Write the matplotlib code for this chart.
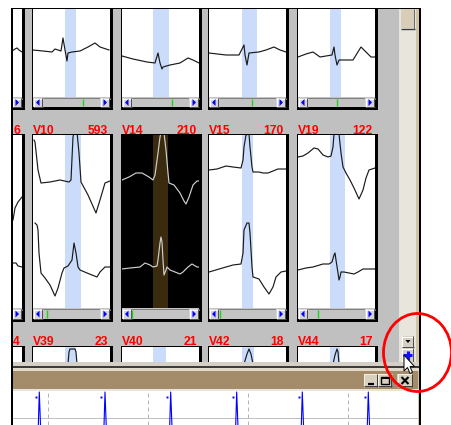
import matplotlib
matplotlib.use("Agg")
import matplotlib.pyplot as plt
from matplotlib.patches import Rectangle, Polygon, Ellipse

W, H, DPI = 452, 425, 100

# ---------------- data ----------------
row2_leads = ["", "V10", "V14", "V15", "V19"]
row2_counts = ["6", "593", "210", "170", "122"]
row3_leads = ["", "V39", "V40", "V42", "V44"]
row3_counts = ["4", "23", "21", "18", "17"]

# row 1 traces: (time, depth below panel top)
r1_c0 = [(67, 42), (70, 40), (72, 39), (74, 41), (77, 43)]
r1_v10 = [(0, 41), (10, 42), (19, 43), (22, 40), (28, 42), (30, 29), (32, 41), (34, 52), (35, 44),
          (39, 43), (47, 42), (55, 38), (62, 34), (67, 38), (76, 41)]
r1_v14 = [(0, 47), (11, 50), (25, 53), (33, 54), (36, 44), (38, 54), (40, 60), (41, 58), (48, 56),
          (58, 54), (66, 49), (71, 51), (77, 54)]
r1_v15 = [(0, 44), (17, 46), (30, 46), (35, 36), (36, 46), (38, 56), (40, 44), (50, 43), (57, 41),
          (65, 38), (71, 41), (77, 43)]
r1_v19 = [(0, 48), (8, 45), (15, 43), (22, 48), (34, 46), (36, 38), (37, 46), (39, 56), (41, 51),
          (47, 51), (55, 51), (63, 38), (68, 43), (73, 48), (77, 48)]
r1_bands = [(32, 43), (32, 43), (31, 47), (33, 48), (32, 43)]
r1_ticks = [None, 50, 50, 43, 39]

# row 2 traces: upper and lower beat templates
r2u_c0 = [(68, 85), (70, 73), (73, 67), (77, 62)]
r2l_c0 = [(68, 128), (71, 128), (73, 131), (77, 132)]
r2u_v10 = [(1, 5), (2, 7), (5, 35), (8, 48), (17, 47), (27, 45), (36, 47), (38, 45), (40, 2), (41, -3),
           (44, -3), (46, 18), (48, 47), (55, 60), (63, 78), (67, 65), (72, 48), (77, 46)]
r2l_v10 = [(2, 88), (4, 90), (5, 95), (6, 118), (8, 138), (12, 143), (17, 150), (22, 161), (25, 153),
           (29, 138), (31, 133), (35, 131), (39, 125), (41, 108), (43, 118), (45, 132), (47, 135),
           (54, 138), (64, 142), (67, 137), (72, 132), (77, 132)]
r2u_v14 = [(0, 45), (7, 42), (14, 38), (20, 38), (27, 42), (31, 45), (33, 40), (36, 18), (38, 2),
           (39, -2), (42, -2), (44, 15), (46, 38), (47, 48), (52, 50), (58, 58), (62, 66), (64, 69),
           (67, 62), (71, 50), (75, 46), (77, 46)]
r2l_v14 = [(0, 134), (8, 133), (18, 132), (23, 128), (28, 130), (31, 132), (35, 131), (36, 125),
           (38, 108), (39, 102), (40, 107), (41, 125), (42, 140), (44, 135), (45, 132), (48, 135),
           (53, 137), (58, 139), (61, 137), (66, 132), (70, 129), (75, 132), (77, 132)]
r2u_v15 = [(0, 35), (8, 34), (17, 31), (24, 32), (32, 33), (34, 25), (35, 12), (37, 0), (40, -1),
           (41, 12), (43, 32), (44, 37), (50, 37), (54, 38), (59, 38), (64, 36), (69, 34), (77, 34)]
r2l_v15 = [(0, 137), (17, 132), (24, 130), (32, 129), (34, 118), (35, 95), (38, 88), (40, 88),
           (41, 98), (43, 132), (44, 142), (50, 144), (55, 152), (60, 159), (64, 152), (67, 142),
           (72, 137), (77, 136)]
r2u_v19 = [(0, 22), (5, 21), (10, 18), (16, 13), (20, 14), (25, 20), (30, 22), (33, 21), (35, 12),
           (36, -1), (41, -1), (43, 18), (45, 32), (48, 38), (52, 45), (56, 53), (61, 64), (65, 55),
           (68, 43), (71, 35), (77, 33)]
r2l_v19 = [(0, 135), (8, 133), (15, 132), (25, 129), (31, 129), (34, 127), (36, 120), (37, 118),
           (38, 125), (40, 138), (41, 145), (42, 142), (43, 137), (46, 137), (51, 138), (56, 139),
           (60, 137), (65, 134), (77, 134)]
r2_bands = [(32, 48), (32, 48), (31, 46), (33, 44), (32, 47)]
r2_ticks = [None, 14, 10, 11, 20]

# row 3 (partially visible)
r3_v39 = [(35, 17), (36, 5), (37, 2), (42, 2), (43, 5), (44, 17)]
r3_v42 = [(35, 17), (38, 7), (40, 2), (42, 7), (44, 17)]
r3_v44 = [(35, 17), (37, 8), (39, 2), (40, 5), (41, 17)]
r3_bands = [(32, 43), (32, 43), (31, 44), (33, 45), (32, 42)]

# rhythm strip (lower window)
beat_times = [26.3, 92.0, 157.7, 223.7, 289.3, 355.3]
grid_times = [35, 135, 235, 335]

# ---------------- layout ----------------
COLS = [-55, 33, 122, 209, 298]
PW = 77
GRAY = "#c0c0c0"
BLUE_BAND = "#cadcfa"
px = 0.72  # one pixel in points

fig = plt.figure(figsize=(W / DPI, H / DPI), dpi=DPI)
fig.patch.set_facecolor("white")
main = fig.add_axes([0, 0, 1, 1])
main.set_xlim(0, W)
main.set_ylim(H, 0)
main.axis("off")


def rect(ax, x0, y0, x1, y1, color, z=1):
    ax.add_patch(Rectangle((x0, y0), x1 - x0, y1 - y0, facecolor=color,
                           edgecolor="none", lw=0, zorder=z))


def seg(ax, xs, ys, color, lw=px, z=3):
    ax.plot(xs, ys, color=color, lw=lw, zorder=z, solid_capstyle="butt")


def sub_axes(x0, y0, w, h, xlim, ylim, bg, z=2):
    a = fig.add_axes([x0 / W, 1 - (y0 + h) / H, w / W, h / H], zorder=z)
    a.set_xlim(*xlim)
    a.set_ylim(*ylim)
    a.set_facecolor(bg)
    a.set_xticks([])
    a.set_yticks([])
    for s in a.spines.values():
        s.set_visible(False)
    return a


# background gray workspace
rect(main, 13, 9, 399, 362, GRAY, z=0)


def scrollbar(x, y, w, hs, tick):
    rect(main, x, y, x + w, y + hs, "#c4c4c4", z=2)
    seg(main, [x, x + w], [y + 0.5, y + 0.5], "#808080", z=3)
    for bx, d in ((x, -1), (x + w - 10, 1)):
        rect(main, bx + 0.5, y + 1, bx + 10, y + hs, "#d4d4d4", z=3)
        seg(main, [bx + 1, bx + 1], [y + 1, y + hs], "white", z=4)
        seg(main, [bx + 1, bx + 10], [y + 1.5, y + 1.5], "white", z=4)
        seg(main, [bx + 9.5, bx + 9.5], [y + 1, y + hs], "#505050", z=4)
        seg(main, [bx + 1, bx + 10], [y + hs - 0.5, y + hs - 0.5], "#505050", z=4)
        cx, cy = bx + 5, y + hs / 2 + 0.5
        tri = [(cx + 2 * d, cy), (cx - 1.5 * d, cy - 3.5), (cx - 1.5 * d, cy + 3.5)]
        main.add_patch(Polygon(tri, closed=True, facecolor="#0000ff", edgecolor="none", zorder=5))
    if tick is not None:
        seg(main, [x + tick, x + tick], [y + 1.5, y + hs - 1], "#1ed21e", lw=1.0, z=4)


def draw_row(top, plot_h, sb_h, labels_y, leads, counts, bands, ticks, traces, dark_col=None,
             shadow_top=None):
    for i, x in enumerate(COLS):
        bottom = top + plot_h + sb_h
        st = top - 1 if shadow_top is None else shadow_top
        rect(main, x - 1, st, x + PW + 3, bottom + 3, "black", z=1)
        if sb_h:
            scrollbar(x, top + plot_h, PW, sb_h, ticks[i])
        dark = (i == dark_col)
        bg = "black" if dark else "white"
        if i == 0:
            a = sub_axes(13, top, 9, plot_h, (68, 77), (plot_h, 0), bg)
        else:
            a = sub_axes(x, top, PW, plot_h, (0, PW), (plot_h, 0), bg)
        a.axvspan(bands[i][0], bands[i][1], color="#3a2a0e" if dark else BLUE_BAND, lw=0)
        for tr in traces[i]:
            if tr is None:
                continue
            a.plot([p[0] for p in tr], [p[1] for p in tr],
                   color="#cfcfcf" if dark else "#1a1a1a", lw=0.85)
        # labels above
        if labels_y is not None:
            if leads[i]:
                main.text(x, labels_y, leads[i], color="#ff0000", fontsize=8.7,
                          fontweight="bold", family="Liberation Sans", ha="left", va="baseline",
                          zorder=6)
            main.text(x + PW - 2, labels_y, counts[i], color="#ff0000", fontsize=8.7,
                      fontweight="bold", family="Liberation Sans", ha="right", va="baseline",
                      zorder=6)


# row 1 (top cut by frame)
draw_row(9, 88, 10, None, None, None, r1_bands, r1_ticks,
         [[r1_c0], [r1_v10], [r1_v14], [r1_v15], [r1_v19]], shadow_top=8)
# labels for row 2
for i, x in enumerate(COLS):
    pass
draw_row(135, 173, 11, 133.5, row2_leads, row2_counts, r2_bands, r2_ticks,
         [[r2u_c0, r2l_c0], [r2u_v10, r2l_v10], [r2u_v14, r2l_v14],
          [r2u_v15, r2l_v15], [r2u_v19, r2l_v19]], dark_col=2)
draw_row(347, 15, 0, 345, row3_leads, row3_counts, r3_bands, [None] * 5,
         [[None], [r3_v39], [None], [r3_v42], [r3_v44]])

# right scrollbar column
rect(main, 399, 9, 416, 362, "#e8e6dc", z=1)
rect(main, 416, 9, 419.5, 425, "#d2c4a4", z=1)
rect(main, 401, 9, 415, 28, "#d8ceb8", z=2)
seg(main, [401, 415], [28.5, 28.5], "#3a3a3a", lw=1.0, z=3)
seg(main, [414.5, 414.5], [9, 29], "#6a6a6a", lw=px, z=3)
# down-arrow and plus buttons
for (y0, y1) in ((336, 347), (348, 362)):
    rect(main, 402, y0, 414, y1, "#d6d0c4", z=2)
    seg(main, [402.5, 402.5], [y0, y1], "white", z=3)
    seg(main, [402, 414], [y0 + 0.5, y0 + 0.5], "white", z=3)
    seg(main, [413.5, 413.5], [y0, y1], "#505050", z=3)
    seg(main, [402, 414], [y1 - 0.5, y1 - 0.5], "#505050", z=3)
main.add_patch(Polygon([(405.5, 340), (410.5, 340), (408, 343)], closed=True,
                       facecolor="black", edgecolor="none", zorder=4))
seg(main, [403.5, 412.5], [355, 355], "#1010ff", lw=2.2, z=4)
seg(main, [408, 408], [350.5, 360], "#1010ff", lw=2.2, z=4)

# lower window chrome
rect(main, 13, 362, 419.5, 366, "#d4d0c8", z=4)
rect(main, 13, 366, 419.5, 368, "#3c3c3c", z=4)
rect(main, 13, 368, 419.5, 371, "#e2dac8", z=4)
rect(main, 13, 371, 418, 389, "#a48c6a", z=4)
rect(main, 13, 389, 419.5, 391, "#e8e4dc", z=4)
for (x0, x1) in ((364, 378), (378, 392), (397.5, 412.5)):
    rect(main, x0, 373.5, x1, 386.5, "#d8d0be", z=5)
    seg(main, [x0 + 0.5, x0 + 0.5], [373.5, 386.5], "#f4f0e8", z=6)
    seg(main, [x0, x1], [374, 374], "#f4f0e8", z=6)
    seg(main, [x1 - 0.5, x1 - 0.5], [373.5, 386.5], "#404040", z=6)
    seg(main, [x0, x1], [386, 386], "#404040", z=6)
seg(main, [368, 374], [383.5, 383.5], "black", lw=1.6, z=7)
main.add_patch(Rectangle((381.5, 377), 7.5, 6.5, facecolor="none", edgecolor="black",
                         lw=1.0, zorder=7))
seg(main, [381.5, 389], [377.5, 377.5], "black", lw=1.4, z=7)
seg(main, [401.5, 408.5], [377, 384], "black", lw=1.5, z=7)
seg(main, [401.5, 408.5], [384, 377], "black", lw=1.5, z=7)

# frame lines and outside area
rect(main, 0, 0, W, 7.5, "white", z=8)
rect(main, 0, 0, 11.5, H, "white", z=8)
rect(main, 421, 0, W, H, "white", z=8)
rect(main, 11.5, 7.5, 421, 9, "black", z=9)
rect(main, 11.5, 7.5, 13, H, "black", z=9)
rect(main, 419.5, 7.5, 421, H, "black", z=9)

# rhythm strip axes
strip = sub_axes(13, 391, 405, 34, (0, 405), (34, 0), "white", z=3)
for g in grid_times:
    strip.axvline(g, color="#b4b4b4", lw=px, ls=(0, (4, 3)))
strip.axhline(27, color="#c0c0c0", lw=px)
sx, sy = [0], [45]
for t in beat_times:
    sx += [t - 1.3, t, t + 1.6]
    sy += [45, 1, 45]
sx.append(405)
sy.append(45)
strip.plot(sx, sy, color="#0000ff", lw=0.8)
strip.plot([t - 3.6 for t in beat_times], [5.5] * len(beat_times), ls="none", marker="s",
           ms=1.4, color="#0000ff", mew=0)

# overlay: red circle and mouse cursor
ov = fig.add_axes([0, 0, 1, 1], zorder=10)
ov.set_xlim(0, W)
ov.set_ylim(H, 0)
ov.axis("off")
ov.patch.set_alpha(0)
ov.add_patch(Ellipse((417.5, 352.5), 68, 78, facecolor="none", edgecolor="#ff0000", lw=2.0))
tip = (404, 355)
arrow = [(0, 0), (0, 16), (3.5, 12.5), (6, 18.5), (8.5, 17.5), (6, 11.5), (10.5, 11.5)]
ov.add_patch(Polygon([(tip[0] + a, tip[1] + b) for a, b in arrow], closed=True,
                     facecolor="white", edgecolor="black", lw=0.7))

fig.savefig("out.png", dpi=DPI)
